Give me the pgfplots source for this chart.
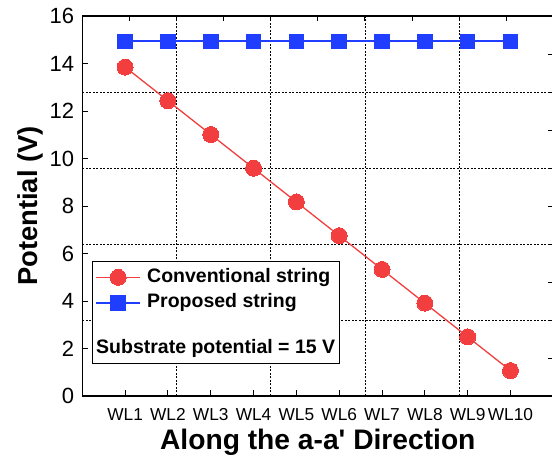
\documentclass[border=0pt]{standalone}
\usepackage{pgfplots}
\pgfplotsset{compat=1.18}
\usepackage{fontspec}
\setmainfont{Liberation Sans}
\definecolor{cred}{RGB}{242,62,62}
\definecolor{cblue}{RGB}{32,62,255}
\begin{document}
\begin{tikzpicture}
\begin{axis}[
  scale only axis, width=471pt, height=380pt,
  xmin=0, xmax=11, ymin=0, ymax=16,
  xtick={1,2,3,4,5,6,7,8,9,10},
  xticklabels={WL1,WL2,WL3,WL4,WL5,WL6,WL7,WL8,WL9,WL10},
  ytick={0,2,4,6,8,10,12,14,16},
  xtick pos=bottom, ytick pos=left,
  tick align=inside, major tick length=6pt,
  tick style={black, line width=0.9pt},
  axis line style={black, line width=1.1pt},
  /pgf/number format/assume math mode=true,
  xticklabel style={font=\fontsize{17.3}{20}\selectfont, anchor=base, inner sep=0pt, yshift=-25pt},
  yticklabel style={font=\fontsize{22}{26}\selectfont, anchor=east, inner sep=0pt, xshift=-8pt},
  extra x ticks={2.2,4.4,6.6,8.8}, extra x tick labels={},
  extra y ticks={3.2,6.4,9.6,12.8}, extra y tick labels={},
  extra x tick style={grid=major, major tick length=0pt},
  extra y tick style={grid=major, major tick length=0pt},
  major grid style={black, line width=0.6pt, dash pattern=on 2pt off 1.5pt},
  xlabel={Along the a-a\textquotesingle{} Direction},
  ylabel={Potential (V)},
  xlabel style={font=\bfseries\fontsize{28.2}{33}\selectfont, at={(axis description cs:0.5,0)}, anchor=center, yshift=-46pt},
  ylabel style={font=\bfseries\fontsize{27.4}{32}\selectfont, at={([xshift=-52pt]axis description cs:0,0.5)}, anchor=center},
  legend image code/.code={\draw[mark repeat=2,mark phase=2,#1] plot coordinates {(0pt,0pt) (22pt,0pt) (44pt,0pt)};},
  legend style={draw=none, fill=none, inner sep=0pt, row sep=8pt, column sep=6pt,
    nodes={inner sep=0pt, text height=13.5pt, text depth=4pt},
    font=\bfseries\fontsize{19.5}{23}\selectfont,
    at={(axis cs:0.297,4.46)}, anchor=west},
  legend cell align=left,
]
\draw[black, line width=0.9pt, fill=white] (axis cs:0.227,1.39) rectangle (axis cs:6.0,5.68);
\node[anchor=west, inner sep=0pt, font=\bfseries\fontsize{19.5}{23}\selectfont] at (axis cs:0.32,2.02) {Substrate potential = 15 V};
\addplot[cred, line width=1.3pt, mark=*, mark size=8pt, mark options={fill=cred, draw=cred, line width=0pt}]
  coordinates {(1,13.85) (2,12.43) (3,11.01) (4,9.59) (5,8.17) (6,6.75) (7,5.33) (8,3.91) (9,2.49) (10,1.07)};
\addlegendentry{Conventional string}
\addplot[cblue, line width=2pt, mark=square*, mark size=7.3pt, mark options={fill=cblue, draw=cblue, line width=0pt}]
  coordinates {(1,14.93) (2,14.93) (3,14.93) (4,14.93) (5,14.93) (6,14.93) (7,14.93) (8,14.93) (9,14.93) (10,14.93)};
\addlegendentry{Proposed string}
\coordinate (sw) at (rel axis cs:0,0);
\end{axis}
\begin{axis}[
  scale only axis, width=471pt, height=380pt,
  xmin=0, xmax=11, ymin=0, ymax=16,
  axis x line*=top, axis y line*=right,
  axis line style={black, line width=1.1pt},
  xtick={1.1,2.2,3.3,4.4,5.5,6.6,7.7,8.8,9.9},
  ytick={1.6,3.2,4.8,6.4,8,9.6,11.2,12.8,14.4},
  xticklabels={}, yticklabels={},
  tick align=inside, major tick length=5pt,
  tick style={black, line width=0.9pt},
]
\end{axis}
\pgfresetboundingbox
\path (sw) ++(-82.3pt,-69pt) rectangle ++(552pt,465pt);
\end{tikzpicture}
\end{document}
